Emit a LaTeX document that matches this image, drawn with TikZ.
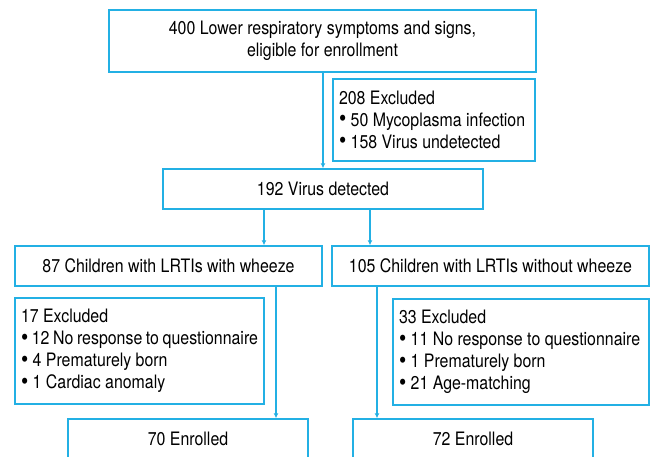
\documentclass[tikz,border=0pt]{standalone}
\usepackage{fontspec}
\usepackage{graphicx}
\setmainfont[FakeStretch=0.86]{TeX Gyre Heros}
\usetikzlibrary{arrows.meta}
\definecolor{flowblue}{RGB}{35,176,228}
\newcommand{\bul}{\raisebox{-0.05ex}{\scalebox{1.3}{\textbullet}}}
\tikzset{
	box/.style={draw=flowblue,line width=1.5pt,inner sep=0pt,align=center,
		font=\fontsize{18.5}{22}\selectfont},
	exclbox/.style={box,align=left,inner xsep=6pt,
		execute at begin node={\spaceskip=0pt\xspaceskip=0pt}},
	arr/.style={draw=flowblue,line width=1.5pt,-{Latex[length=5pt,width=5pt]}}
}
\begin{document}
\begin{tikzpicture}[x=1pt,y=-1pt]
	\clip (0,0) rectangle (650,456);
	\node[box,minimum width=427pt,minimum height=62pt] (top) at (322.5,41) {400 Lower respiratory symptoms and signs,\\eligible for enrollment};
	\node[exclbox,minimum height=82pt,text width=190pt] (excl1) at (434,120) {208 Excluded\\\bul{} 50 Mycoplasma infection\\\bul{} 158 Virus undetected};
	\node[box,minimum width=320pt,minimum height=40pt] (virus) at (323,189) {192 Virus detected};
	\node[box,minimum width=307pt,minimum height=40pt] (wheeze) at (168.5,266) {87 Children with LRTIs with wheeze};
	\node[box,minimum width=317pt,minimum height=40pt] (nowheeze) at (490.5,266) {105 Children with LRTIs without wheeze};
	\node[exclbox,minimum height=106pt,text width=237pt] (excl2) at (139.5,351) {17 Excluded\\\bul{} 12 No response to questionnaire\\\bul{} 4 Prematurely born\\\bul{} 1 Cardiac anomaly};
	\node[exclbox,minimum height=106pt,text width=244pt] (excl3) at (521,352) {33 Excluded\\\bul{} 11 No response to questionnaire\\\bul{} 1 Prematurely born\\\bul{} 21 Age-matching};
	\node[box,minimum width=240pt,minimum height=40pt] (enr1) at (188,439) {70 Enrolled};
	\node[box,minimum width=240pt,minimum height=40pt] (enr2) at (473,439) {72 Enrolled};
	\coordinate (v1) at (264,0);
	\coordinate (v2) at (370,0);
	\coordinate (w1) at (276,0);
	\coordinate (w2) at (377,0);
	\draw[arr] (top.south -| virus.north) -- (virus.north);
	\draw[arr] (virus.south -| v1) -- (wheeze.north -| v1);
	\draw[arr] (virus.south -| v2) -- (nowheeze.north -| v2);
	\draw[arr] (wheeze.south -| w1) -- (enr1.north -| w1);
	\draw[arr] (nowheeze.south -| w2) -- (enr2.north -| w2);
\end{tikzpicture}
\end{document}
